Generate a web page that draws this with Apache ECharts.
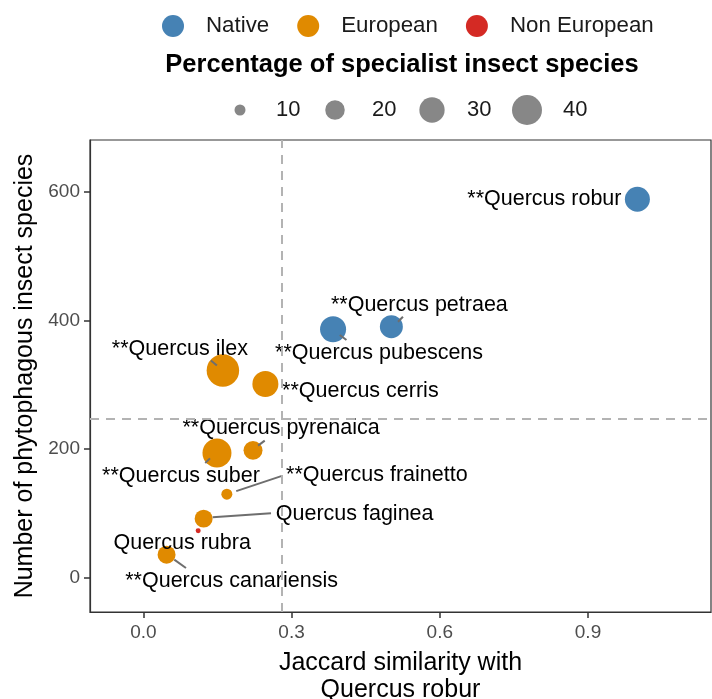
<!DOCTYPE html>
<html><head><meta charset="utf-8">
<script src="https://cdn.jsdelivr.net/npm/echarts@6/dist/echarts.min.js"></script>
<style>html,body{margin:0;padding:0;background:#fff}#c{width:712px;height:699px}</style>
</head><body><div id="c"></div>
<script>
// ---- data ----
var names = ['**Quercus robur','**Quercus petraea','**Quercus pubescens','**Quercus ilex','**Quercus cerris','**Quercus pyrenaica','**Quercus suber','**Quercus frainetto','Quercus faginea','Quercus rubra','**Quercus canariensis'];
var origin = ['Native','Native','Native','European','European','European','European','European','European','Non European','European'];
var jaccard = [1.0, 0.502, 0.384, 0.161, 0.247, 0.222, 0.149, 0.169, 0.122, 0.111, 0.047];
var insects = [588, 390, 386, 322, 301, 198, 194, 130, 92, 73, 36];
var specialist = [29.4, 25.7, 31.4, 46, 31.4, 19.2, 37.7, 10, 17.8, 6.3, 17.8];
var groups = ['Native','European','Non European'];
var sizeBreaks = [10, 20, 30, 40];
var xTicks = [0, 0.3, 0.6, 0.9];
var yTicks = [0, 200, 400, 600];
var meanJaccard = 0.284;
var meanInsects = 247;

// ---- styling (not data): label offsets and leader-segment offsets in px from the point centre ----
var colors = {'Native':'#4682B4','European':'#E08A00','Non European':'#D42A24'};
var labelOffset = [[-93,0],[28,-22],[46,24],[-43,-21],[95,7],[28,-22],[-36,23],[150,-19],[151,-5],[-16,12],[65,26]];
var segOffset = [null,[6.6,-5,11.6,-10],[6.7,5.7,13.4,10.7],[-12,-10,-6,-5],null,[5,-4.7,11.7,-9.7],[-11.7,10,-7,5.4],[9.4,-3,54.4,-18],[9,-1.3,67.4,-5.3],null,[7.7,5,19.4,13.3]];
var FONT = 'Liberation Sans, Arial, Helvetica, sans-serif';
function sizeOf(v){ return Math.sqrt(Math.max(16, -138.7 + 25.97 * v)); }

var chart = echarts.init(document.getElementById('c'));
var idxMap = [];
var series = groups.map(function(g, s){
  idxMap[s] = [];
  var data = [];
  for (var i = 0; i < names.length; i++) {
    if (origin[i] !== g) continue;
    idxMap[s].push(i);
    data.push({name: names[i], value: [jaccard[i], insects[i], specialist[i]]});
  }
  var ser = {
    name: g, type: 'scatter', data: data,
    symbol: 'circle',
    symbolSize: function(v){ return sizeOf(v[2]); },
    itemStyle: {color: colors[g], opacity: 1},
    label: {show: true, formatter: '{b}', fontSize: 21.5, color: '#000', fontFamily: FONT},
    labelLayout: function(p){
      var i = idxMap[p.seriesIndex][p.dataIndex];
      var cx = p.rect.x + p.rect.width / 2, cy = p.rect.y + p.rect.height / 2;
      return {x: cx + labelOffset[i][0], y: cy + labelOffset[i][1], align: 'center', verticalAlign: 'middle'};
    },
    z: 3
  };
  if (s === 0) {
    ser.markLine = {
      silent: true, symbol: 'none', animation: false,
      label: {show: false},
      lineStyle: {color: '#b3b3b3', type: [9, 7], width: 2},
      data: [{xAxis: meanJaccard}, {yAxis: meanInsects}]
    };
  }
  return ser;
});

var segData = [];
for (var i = 0; i < names.length; i++) if (segOffset[i]) segData.push([jaccard[i], insects[i], i]);
series.push({
  type: 'custom', name: 'segments', silent: true, z: 4, data: segData,
  renderItem: function(params, api){
    var i = api.value(2);
    var p = api.coord([api.value(0), api.value(1)]);
    var o = segOffset[i];
    return {type: 'line', shape: {x1: p[0] + o[0], y1: p[1] + o[1], x2: p[0] + o[2], y2: p[1] + o[3]},
            style: {stroke: '#6e6e6e', lineWidth: 2}};
  }
});

var graphic = [{
  type: 'text', x: 402, y: 65,
  style: {text: 'Percentage of specialist insect species', font: 'bold 25.5px ' + FONT, fill: '#000', textAlign: 'center', textVerticalAlign: 'middle'}
}];
var sizeCx = [240, 335, 432, 527], sizeTx = [276, 372, 467, 563];
sizeBreaks.forEach(function(v, k){
  graphic.push({type: 'circle', shape: {cx: sizeCx[k], cy: 110, r: sizeOf(v) / 2}, style: {fill: '#878787'}});
  graphic.push({type: 'text', x: sizeTx[k], y: 110, style: {text: String(v), font: '22px ' + FONT, fill: '#1a1a1a', textAlign: 'left', textVerticalAlign: 'middle'}});
});

chart.setOption({
  animation: false,
  backgroundColor: '#fff',
  legend: {
    data: groups, top: 10, left: 157, icon: 'circle', itemWidth: 22, itemHeight: 22, itemGap: 28,
    textStyle: {fontSize: 22.3, color: '#1a1a1a', fontFamily: FONT, padding: [0, 0, 0, 17]}
  },
  graphic: graphic,
  grid: {left: 90, right: 1, top: 140, bottom: 87, outerBoundsMode: 'none', containLabel: false, show: true, borderColor: '#333', borderWidth: 1.2, backgroundColor: '#fff'},
  xAxis: {
    type: 'value', min: -0.108, max: 1.149,
    name: 'Jaccard similarity with\nQuercus robur', nameLocation: 'middle', nameGap: 38,
    nameTextStyle: {fontSize: 25, color: '#000', fontFamily: FONT, lineHeight: 27},
    axisLine: {show: true, onZero: false, lineStyle: {color: '#333', width: 1.2}},
    axisTick: {show: true, length: 6, customValues: xTicks, lineStyle: {color: '#333', width: 1.5}},
    axisLabel: {customValues: xTicks, fontSize: 19, color: '#4d4d4d', fontFamily: FONT, margin: 11, formatter: function(v){ return v.toFixed(1); }},
    splitLine: {show: false}
  },
  yAxis: {
    type: 'value', min: -53, max: 680,
    name: 'Number of phytophagous insect species', nameLocation: 'middle', nameGap: 52, nameRotate: 90,
    nameTextStyle: {fontSize: 25, color: '#000', fontFamily: FONT},
    axisLine: {show: true, onZero: false, lineStyle: {color: '#333', width: 1.2}},
    axisTick: {show: true, length: 6, customValues: yTicks, lineStyle: {color: '#333', width: 1.5}},
    axisLabel: {customValues: yTicks, fontSize: 19, color: '#4d4d4d', fontFamily: FONT, margin: 10},
    splitLine: {show: false}
  },
  series: series
});
</script></body></html>
